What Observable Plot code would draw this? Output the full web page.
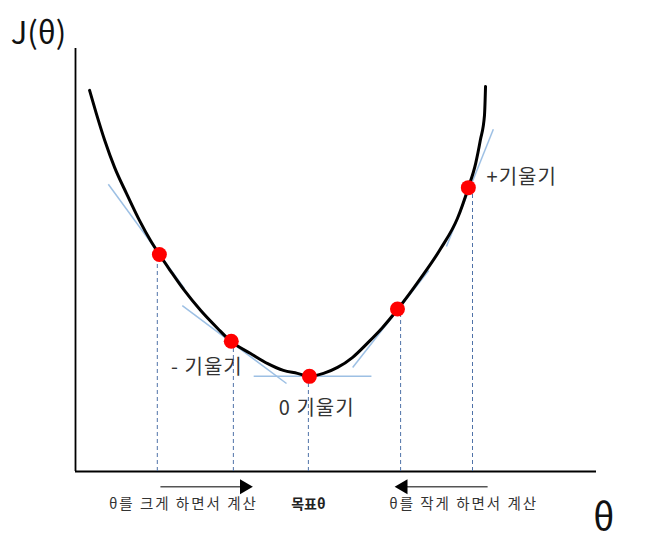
<!DOCTYPE html>
<html>
<head>
<meta charset="utf-8">
<script src="https://cdn.jsdelivr.net/npm/d3@7"></script>
<script src="https://cdn.jsdelivr.net/npm/@observablehq/plot@0.6"></script>
<style>
  body { margin: 0; background: #fff; }
  #chart svg { display: block; }
</style>
</head>
<body>
<div id="chart"></div>
<script>
// cost curve J(θ) (θ and J both on a 0-100 scale)
const curveTheta = [2.7, 4.0, 5.6, 7.5, 9.8, 12.3, 14.4, 16.1, 18.2, 20.9, 24.0, 27.3, 29.9, 33.6, 36.9, 39.9, 42.6, 44.9, 47.6, 50.3, 53.2, 56.0, 58.9, 61.8, 66.2, 70.1, 73.3, 75.4, 76.8, 77.7, 78.5, 78.7];
const curveJ     = [90.1, 84.6, 78.3, 71.9, 65.7, 59.3, 54.6, 51.3, 47.5, 42.8, 38.1, 33.8, 30.7, 27.9, 25.5, 23.9, 23.2, 22.5, 23.2, 24.6, 27.0, 30.3, 34.0, 38.3, 45.6, 52.7, 59.8, 67.1, 72.8, 78.3, 84.2, 91.0];

// red points where the slope is computed
const stepTheta = [16.1, 29.9, 44.9, 61.8, 75.4];
const stepJ     = [51.3, 30.8, 22.5, 38.4, 67.1];
// dashed guides under each point
const guideTheta = [15.7, 30.3, 44.7, 62.4, 76.2];

// tangent segments
const tanT1 = [6.3, 20.5, 34.2, 53.2, 71.2];
const tanJ1 = [67.9, 39.2, 22.5, 24.6, 53.2];
const tanT2 = [20.9, 40.5, 56.8, 67.8, 80.2];
const tanJ2 = [43.3, 20.8, 22.5, 47.5, 80.9];

// slope labels
const slopeLabels = ["+기울기", "- 기울기", "0 기울기"];
const slopeTheta  = [78.9, 32.1, 46.3];
const slopeJ      = [69.5, 24.6, 14.9];

// direction arrows under the axis
const arrowFrom = [16.3, 79.1];
const arrowTo   = [32.0, 63.4];
const arrowHead = [32.4, 62.9];
const arrowDir  = [90, -90];
const arrowJ = -3.6;

const bottomLabels = ["θ를 크게 하면서 계산", "목표θ", "θ를 작게 하면서 계산"];
const bottomTheta  = [20.7, 44.7, 74.5];
const bottomJ = -7.8;

const curve = curveTheta.map((t, i) => ({t, j: curveJ[i]}));
const steps = stepTheta.map((t, i) => ({t, j: stepJ[i], g: guideTheta[i]}));
const tangents = tanT1.map((t, i) => ({x1: t, y1: tanJ1[i], x2: tanT2[i], y2: tanJ2[i]}));
const slopes = slopeLabels.map((s, i) => ({s, t: slopeTheta[i], j: slopeJ[i]}));
const arrows = arrowFrom.map((a, i) => ({a, b: arrowTo[i], h: arrowHead[i], r: arrowDir[i]}));
const bottoms = bottomLabels.map((s, i) => ({s, t: bottomTheta[i]}));

const font = "'Noto Sans CJK KR', 'Noto Sans', sans-serif";

const chart = Plot.plot({
  width: 672,
  height: 545,
  marginLeft: 75,
  marginRight: 76,
  marginTop: 48,
  marginBottom: 74,
  style: {fontFamily: font, background: "white"},
  x: {domain: [0, 100], axis: null},
  y: {domain: [0, 100], axis: null},
  marks: [
    // axes
    Plot.ruleX([0], {y1: 0, y2: 100, stroke: "black", strokeWidth: 1.8}),
    Plot.ruleY([0], {x1: 0, x2: 100, stroke: "black", strokeWidth: 1.8}),
    // dashed guides
    Plot.ruleX(steps, {x: "g", y1: 0, y2: "j", stroke: "#4f72a8", strokeWidth: 1, strokeDasharray: "4,3"}),
    // tangents
    Plot.link(tangents, {x1: "x1", y1: "y1", x2: "x2", y2: "y2", stroke: "#9dc0e4", strokeWidth: 1.5}),
    // curve
    Plot.line(curve, {x: "t", y: "j", curve: "monotone-x", stroke: "black", strokeWidth: 3}),
    Plot.dot(steps, {x: "t", y: "j", r: 7.5, fill: "#ff0000"}),
    // slope labels
    Plot.text(slopes.slice(0, 1), {x: "t", y: "j", text: "s", textAnchor: "start", fontSize: 20, fill: "#333"}),
    Plot.text(slopes.slice(1, 2), {x: "t", y: "j", text: "s", textAnchor: "end", fontSize: 20, fill: "#333"}),
    Plot.text(slopes.slice(2), {x: "t", y: "j", text: "s", fontSize: 20, fill: "#333"}),
    // arrows
    Plot.link(arrows, {x1: "a", x2: "b", y1: arrowJ, y2: arrowJ, stroke: "#555", strokeWidth: 1.6}),
    Plot.dot(arrows, {x: "h", y: arrowJ, symbol: "triangle", rotate: "r", r: 5.5, fill: "black", stroke: "none"}),
    // bottom captions
    Plot.text([bottoms[0], bottoms[2]], {x: "t", y: bottomJ, text: "s", fontSize: 14.5, fill: "#333"}),
    Plot.text([bottoms[1]], {x: "t", y: bottomJ, text: "s", fontSize: 14, fill: "#222", fontWeight: "bold"}),
    // axis names
    Plot.text(["J(θ)"], {x: -7.1, y: 103.3, fontSize: 31, fill: "#111"}),
    Plot.text(["θ"], {x: 101.4, y: -11.3, fontSize: 37, fill: "#111"})
  ]
});

// the original captions are set a little wider
d3.select(chart).selectAll("text").each(function() {
  const s = this.textContent;
  if (s.includes("하면서")) this.setAttribute("letter-spacing", "2");
  else if (s.includes("기울기")) this.setAttribute("letter-spacing", "1");
});

document.getElementById("chart").append(chart);
</script>
</body>
</html>
